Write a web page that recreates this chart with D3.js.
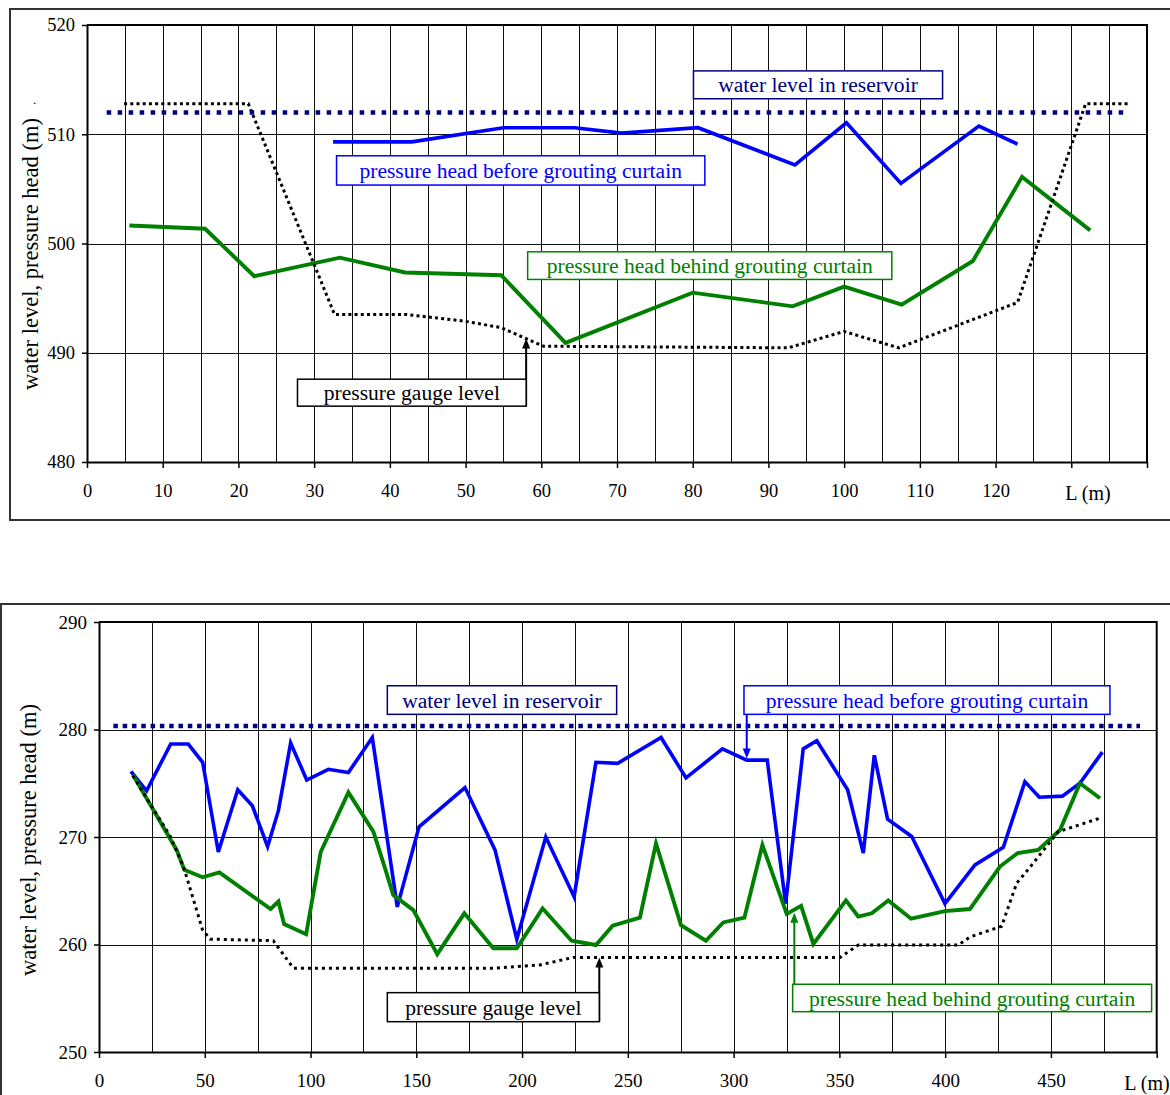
<!DOCTYPE html>
<html>
<head>
<meta charset="utf-8">
<script src="https://cdn.jsdelivr.net/npm/d3@7"></script>
<style>
  body { margin: 0; background: #fff; }
  svg { display: block; font-family: "Liberation Serif", "Times New Roman", serif; }
</style>
</head>
<body>
<div id="chart"></div>
<script>
// Upper profile: L (m) along the curtain, levels in m
const topXTicks = d3.range(0, 141, 10);
const topXLabels = [0, 10, 20, 30, 40, 50, 60, 70, 80, 90, 100, 110, 120];
const topYTicks = [480, 490, 500, 510, 520];
const topReservoir = [[2.6, 512.0], [137.7, 512.0]];
const topBefore = [
    [32.5, 509.3], [42.9, 509.3], [55.0, 510.6], [64.4, 510.6], [70.6, 510.1], [80.7, 510.6],
    [93.5, 507.2], [100.3, 511.05], [107.5, 505.5], [117.8, 510.75], [122.9, 509.1]
];
const topBehind = [
    [5.6, 501.65], [15.6, 501.35], [22.1, 497.0], [33.4, 498.7], [42.0, 497.35], [54.7, 497.1],
    [63.2, 490.9], [80.0, 495.5], [93.2, 494.25], [100.0, 496.05], [107.6, 494.4], [117.0, 498.4],
    [123.5, 506.1], [132.5, 501.2]
];
const topGauge = [
    [4.9, 512.8], [21.3, 512.8], [32.7, 493.5], [42.2, 493.5], [49.8, 492.9], [54.7, 492.3],
    [60.3, 490.6], [92.6, 490.45], [100.0, 491.95], [107.2, 490.45], [122.9, 494.6],
    [131.9, 512.8], [137.7, 512.8]
];

// Lower profile
const botXTicks = d3.range(0, 501, 50);
const botXLabels = [0, 50, 100, 150, 200, 250, 300, 350, 400, 450];
const botYTicks = [250, 260, 270, 280, 290];
const botReservoir = [[6.8, 280.33], [492.1, 280.33]];
const botBefore = [
    [15.1, 276.1], [22.5, 274.3], [33.9, 278.65], [42.2, 278.65], [49.0, 276.95], [56.4, 268.6],
    [65.6, 274.4], [72.5, 272.9], [79.7, 269.1], [84.8, 272.45], [90.6, 278.75], [98.2, 275.3],
    [108.4, 276.3], [117.9, 276.0], [129.2, 279.25], [141.0, 263.5], [151.3, 270.95], [173.0, 274.6],
    [187.2, 268.8], [197.5, 260.5], [211.2, 270.0], [224.6, 264.45], [234.9, 276.95], [245.2, 276.85],
    [265.7, 279.25], [277.5, 275.5], [294.7, 278.2], [306.2, 277.15], [315.9, 277.15], [324.6, 263.8],
    [332.9, 278.2], [339.3, 278.95], [353.9, 274.4], [361.3, 268.5], [366.5, 277.6], [372.8, 271.65],
    [384.2, 270.05], [399.9, 263.8], [414.1, 267.4], [427.5, 269.05], [437.7, 275.15], [444.5, 273.7],
    [455.4, 273.8], [463.7, 275.0], [474.3, 277.9]
];
const botBehind = [
    [16.0, 275.8], [36.7, 268.8], [40.3, 266.95], [49.0, 266.25], [56.9, 266.7], [81.1, 263.3],
    [84.8, 264.0], [87.5, 261.9], [97.9, 260.95], [104.8, 268.6], [117.9, 274.15], [129.7, 270.5],
    [135.2, 267.1], [139.1, 264.6], [148.6, 263.2], [159.9, 259.1], [172.7, 262.9], [186.4, 259.65],
    [197.5, 259.65], [209.7, 263.35], [223.4, 260.35], [234.9, 259.95], [242.8, 261.75], [255.7, 262.5],
    [263.3, 269.4], [275.1, 261.8], [286.9, 260.35], [295.1, 262.05], [305.1, 262.5], [313.6, 269.25],
    [325.1, 262.85], [331.9, 263.6], [337.7, 260.05], [353.1, 264.1], [358.9, 262.6], [365.3, 262.9],
    [373.1, 264.1], [383.9, 262.4], [399.9, 263.1], [411.7, 263.3], [425.9, 267.25], [434.3, 268.5],
    [444.0, 268.8], [454.3, 270.65], [463.7, 275.0], [473.2, 273.6]
];
const botGauge = [
    [16.0, 275.7], [33.6, 270.1], [40.0, 267.2], [48.9, 261.4], [52.5, 260.5], [82.4, 260.35],
    [91.9, 257.8], [186.4, 257.8], [208.5, 258.1], [224.2, 258.8], [350.3, 258.8], [358.9, 259.95],
    [406.2, 259.95], [411.7, 260.7], [426.7, 261.7], [433.8, 265.7], [438.5, 266.8], [453.5, 270.5],
    [473.2, 271.75]
];

const COL = { navy: '#000080', blue: '#0000ff', green: '#008000', black: '#000' };
const Y_TITLE = 'water level, pressure head (m)';

const panels = [
    {
        frame: { x: 10, y: 9, w: 1180, h: 511 },
        plot: { left: 87, top: 25, right: 1147, bottom: 462 },
        xDomain: [0, 140], yDomain: [480, 520],
        xTicks: topXTicks, xLabels: topXLabels, yTicks: topYTicks,
        xGrid: d3.range(5, 140, 5), yGrid: [490, 500, 510],
        tickFont: 18.5, yTitle: { x: 38, y: 254 }, unitL: 132.2, stray: true,
        reservoir: topReservoir, before: topBefore, behind: topBehind, gauge: topGauge,
        resDash: '4.5 6.5', gaugeDash: '3 3.2',
        notes: [
            { text: 'water level in reservoir', color: COL.navy, L: [80.1, 113.0], v: [515.8, 513.25] },
            { text: 'pressure head before grouting curtain', color: COL.blue, L: [32.96, 81.6], v: [508.03, 505.35] },
            { text: 'pressure head behind grouting curtain', color: COL.green, L: [58.2, 106.3], v: [499.24, 496.71] },
            { text: 'pressure gauge level', color: COL.black, L: [27.8, 58.0], v: [487.58, 485.11],
              arrow: { L: 58.0, from: 485.11, to: 491.3 } }
        ]
    },
    {
        frame: { x: 1, y: 604, w: 1190, h: 520 },
        plot: { left: 99, top: 622, right: 1156.7, bottom: 1052 },
        xDomain: [0, 500], yDomain: [250, 290],
        xTicks: botXTicks, xLabels: botXLabels, yTicks: botYTicks,
        xGrid: d3.range(25, 500, 25), yGrid: [260, 270, 280],
        tickFont: 19, yTitle: { x: 36, y: 840 }, unitL: 495.4, stray: false,
        reservoir: botReservoir, before: botBefore, behind: botBehind, gauge: botGauge,
        resDash: '4.5 4.8', gaugeDash: '3 4',
        notes: [
            { text: 'water level in reservoir', color: COL.navy, L: [136.3, 244.7], v: [284.07, 281.41] },
            { text: 'pressure head before grouting curtain', color: COL.blue, L: [304.9, 477.9], v: [284.07, 281.41],
              arrow: { L: 306.2, from: 281.41, to: 277.3 } },
            { text: 'pressure gauge level', color: COL.black, L: [136.3, 236.5], v: [255.52, 252.82],
              arrow: { L: 236.5, from: 252.82, to: 258.8 } },
            { text: 'pressure head behind grouting curtain', color: COL.green, L: [327.9, 497.6], v: [256.3, 253.75],
              arrow: { L: 328.7, from: 253.75, to: 262.96 } }
        ]
    }
];

const svg = d3.select('#chart').append('svg')
    .attr('width', 1170).attr('height', 1095)
    .attr('viewBox', '0 0 1170 1095');

function drawPanel(p) {
    const x = d3.scaleLinear().domain(p.xDomain).range([p.plot.left, p.plot.right]);
    const y = d3.scaleLinear().domain(p.yDomain).range([p.plot.bottom, p.plot.top]);
    const g = svg.append('g');

    // outer frame
    g.append('rect')
        .attr('x', p.frame.x).attr('y', p.frame.y)
        .attr('width', p.frame.w).attr('height', p.frame.h)
        .attr('fill', 'none').attr('stroke', '#333').attr('stroke-width', 2);

    // gridlines
    g.append('g').selectAll('line').data(p.xGrid).join('line')
        .attr('x1', (d) => Math.round(x(d)) + 0.5).attr('x2', (d) => Math.round(x(d)) + 0.5)
        .attr('y1', p.plot.top).attr('y2', p.plot.bottom)
        .attr('stroke', '#111').attr('stroke-width', 1);
    g.append('g').selectAll('line').data(p.yGrid).join('line')
        .attr('x1', p.plot.left).attr('x2', p.plot.right)
        .attr('y1', (d) => Math.round(y(d)) + 0.5).attr('y2', (d) => Math.round(y(d)) + 0.5)
        .attr('stroke', '#111').attr('stroke-width', 1);

    // plot border (top, right)
    g.append('path')
        .attr('d', `M${p.plot.left},${p.plot.top}H${p.plot.right}V${p.plot.bottom}`)
        .attr('fill', 'none').attr('stroke', '#000').attr('stroke-width', 2);

    // axes
    const styleAxis = (sel) => {
        sel.select('.domain').attr('stroke', '#000').attr('stroke-width', 2);
        sel.selectAll('.tick line').attr('stroke', '#000').attr('stroke-width', 1.5);
        sel.selectAll('text').attr('fill', '#000')
            .style('font-size', p.tickFont + 'px')
            .style('font-family', '"Liberation Serif", "Times New Roman", serif');
    };
    g.append('g').attr('transform', `translate(${p.plot.left},0)`)
        .call(d3.axisLeft(y).tickValues(p.yTicks).tickSize(5).tickPadding(7).tickSizeOuter(0))
        .call(styleAxis);
    g.append('g').attr('transform', `translate(0,${p.plot.bottom})`)
        .call(d3.axisBottom(x).tickValues(p.xTicks).tickSize(6).tickPadding(16).tickSizeOuter(0)
            .tickFormat((d) => (p.xLabels.includes(d) ? d : '')))
        .call(styleAxis);

    g.append('text')
        .attr('x', x(p.unitL)).attr('y', p.plot.bottom + 38)
        .attr('text-anchor', 'middle')
        .style('font-size', '20px')
        .text('L (m)');

    g.append('text')
        .attr('transform', `translate(${p.yTitle.x},${p.yTitle.y}) rotate(-90)`)
        .attr('text-anchor', 'middle')
        .style('font-size', '22.5px')
        .text(Y_TITLE);
    if (p.stray) {
        g.append('text').attr('x', 33).attr('y', 104).style('font-size', '13px').text('.');
    }

    // series
    const line = d3.line().x((d) => x(d[0])).y((d) => y(d[1]));
    const drawLine = (data, color, width, dash) => {
        g.append('path').datum(data)
            .attr('d', line)
            .attr('fill', 'none')
            .attr('stroke', color)
            .attr('stroke-width', width)
            .attr('stroke-dasharray', dash || null)
            .attr('stroke-linejoin', 'miter');
    };
    drawLine(p.before, COL.blue, 3.6);
    drawLine(p.behind, COL.green, 3.9);
    drawLine(p.gauge, COL.black, 3, p.gaugeDash);
    drawLine(p.reservoir, COL.navy, 4.5, p.resDash);

    // annotations
    p.notes.forEach((n) => {
        const x0 = x(n.L[0]), x1 = x(n.L[1]);
        const y0 = y(n.v[0]), y1 = y(n.v[1]);
        if (n.arrow) {
            const ax = x(n.arrow.L);
            const yf = y(n.arrow.from), yt = y(n.arrow.to);
            const dir = yt < yf ? 1 : -1;
            g.append('line')
                .attr('x1', ax).attr('x2', ax)
                .attr('y1', yf).attr('y2', yt + dir * 8)
                .attr('stroke', n.color).attr('stroke-width', 2);
            g.append('path')
                .attr('d', `M${ax},${yt}L${ax - 4},${yt + dir * 10}L${ax + 4},${yt + dir * 10}Z`)
                .attr('fill', n.color);
        }
        g.append('rect')
            .attr('x', x0).attr('y', y0)
            .attr('width', x1 - x0).attr('height', y1 - y0)
            .attr('fill', '#fff').attr('stroke', n.color).attr('stroke-width', 1.5);
        g.append('text')
            .attr('x', (x0 + x1) / 2).attr('y', (y0 + y1) / 2)
            .attr('dy', '0.35em')
            .attr('text-anchor', 'middle')
            .attr('fill', n.color)
            .style('font-size', '21.6px')
            .text(n.text);
    });
}

panels.forEach(drawPanel);
</script>
</body>
</html>
